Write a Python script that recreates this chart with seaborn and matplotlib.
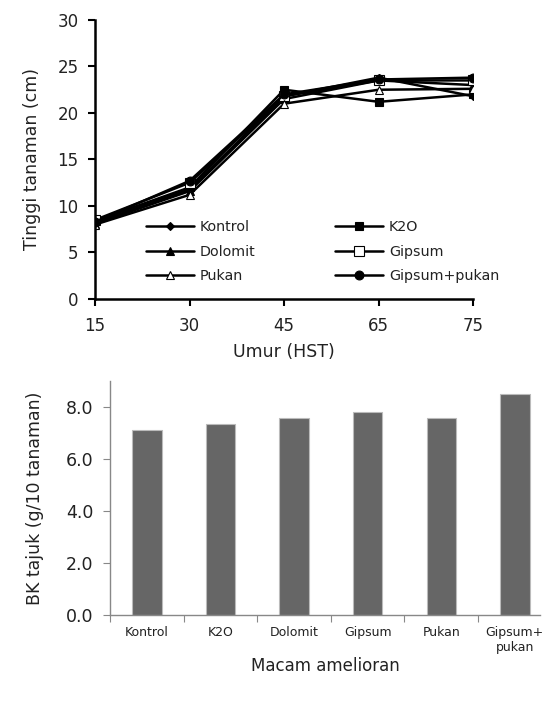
import numpy as np
import pandas as pd
import matplotlib
matplotlib.use('Agg')
import matplotlib.pyplot as plt
import seaborn as sns

# Data
days = ['15', '30', '45', '65', '75']
kontrol = [8.2, 11.8, 21.8, 23.8, 21.8]
k2o = [8.4, 12.0, 22.5, 21.2, 22.0]
dolomit = [8.1, 11.6, 21.5, 23.5, 23.0]
gipsum = [8.5, 12.5, 21.8, 23.5, 23.5]
pukan = [8.0, 11.2, 21.0, 22.5, 22.6]
gipsum_pukan = [8.3, 12.7, 22.0, 23.6, 23.8]

amelioran = ['Kontrol', 'K2O', 'Dolomit', 'Gipsum', 'Pukan', 'Gipsum+\npukan']
bk_tajuk = [7.13, 7.35, 7.57, 7.82, 7.57, 8.49]

sns.set_style('white')
plt.rcParams['font.family'] = ['DejaVu Sans']
txt = '#222222'

fig = plt.figure(figsize=(5.56, 7.01), dpi=100)

# ---- top: plant height line chart
ax1 = fig.add_axes([0.171, 0.5735, 0.680, 0.398])
pos = np.arange(len(days))
series = [
    ('Kontrol', kontrol, 'D', 'black', 5),
    ('K2O', k2o, 's', 'black', 7),
    ('Dolomit', dolomit, '^', 'black', 7),
    ('Gipsum', gipsum, 's', 'white', 9),
    ('Pukan', pukan, '^', 'white', 7),
    ('Gipsum+pukan', gipsum_pukan, 'o', 'black', 7.5),
]
for name, vals, mk, fc, ms in series:
    sns.lineplot(x=pos, y=vals, ax=ax1, color='black', lw=1.8, marker=mk,
                 markersize=ms, markerfacecolor=fc, markeredgecolor='black',
                 markeredgewidth=0.8, label=name)

ax1.set_xlim(0, 4)
ax1.set_ylim(0, 30)
ax1.set_xticks(pos)
ax1.set_xticklabels(days)
ax1.set_yticks(range(0, 31, 5))
ax1.tick_params(axis='both', direction='out', length=5, width=1.5,
                labelsize=12, colors='black', labelcolor=txt, left=True, bottom=True)
ax1.tick_params(axis='x', pad=8)
ax1.tick_params(axis='y', pad=7)
for s in ['top', 'right']:
    ax1.spines[s].set_visible(False)
for s in ['left', 'bottom']:
    ax1.spines[s].set_color('black')
    ax1.spines[s].set_linewidth(1.8)
ax1.set_xlabel('Umur (HST)', fontsize=12.5, color=txt, labelpad=6)
ax1.set_ylabel('Tinggi tanaman (cm)', fontsize=12.5, color=txt, labelpad=12)

# legend filled row by row like the original
h, l = ax1.get_legend_handles_labels()
order = [0, 2, 4, 1, 3, 5]
for hh in h:
    hh.set_markersize(hh.get_markersize() * 0.85)
ax1.legend([h[i] for i in order], [l[i] for i in order], ncol=2, frameon=False,
           fontsize=10.3, loc='lower left', bbox_to_anchor=(0.1, 0.01),
           columnspacing=5.5, handlelength=3.4, labelspacing=0.75,
           handletextpad=0.4, labelcolor=txt)

# ---- bottom: shoot dry weight bar chart
ax2 = fig.add_axes([0.198, 0.1227, 0.773, 0.3338])
sns.barplot(x=amelioran, y=bk_tajuk, ax=ax2, color='#666666', width=0.4,
            edgecolor='#bbbbbb', linewidth=0.8, saturation=1)
ax2.set_ylim(0, 9)
ax2.set_xlim(-0.5, 5.34)
ax2.set_yticks([0, 2, 4, 6, 8])
ax2.set_yticklabels(['0.0', '2.0', '4.0', '6.0', '8.0'])
ax2.set_xticks(np.arange(-0.5, 5.0, 1.0))
ax2.set_xticklabels([])
ax2.set_xticks(np.arange(len(amelioran)), minor=True)
ax2.set_xticklabels(amelioran, minor=True, fontsize=9, color=txt)
ax2.tick_params(axis='x', which='major', direction='out', length=5, color='#888888', bottom=True)
ax2.tick_params(axis='x', which='minor', length=0, pad=8, bottom=True)
ax2.tick_params(axis='y', direction='out', length=5, color='#888888', pad=7,
                labelsize=12.5, labelcolor=txt, left=True)
for s in ['top', 'right']:
    ax2.spines[s].set_visible(False)
for s in ['left', 'bottom']:
    ax2.spines[s].set_color('#888888')
    ax2.spines[s].set_linewidth(1.0)
ax2.set_xlabel('Macam amelioran', fontsize=12, color=txt, labelpad=2)
ax2.set_ylabel('BK tajuk (g/10 tanaman)', fontsize=12.5, color=txt, labelpad=16)

fig.savefig('out.png', dpi=100)
